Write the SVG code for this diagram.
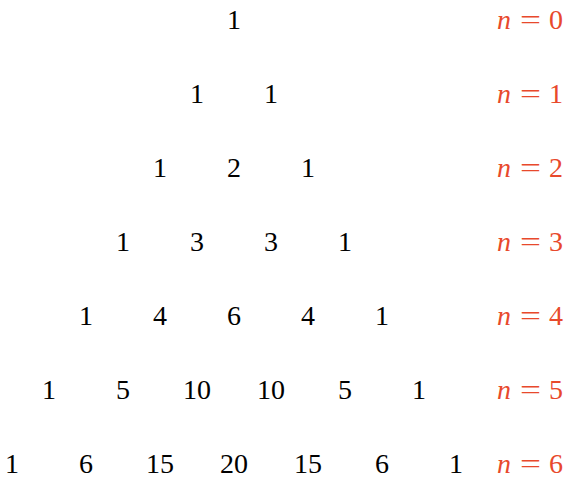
<svg xmlns="http://www.w3.org/2000/svg" width="571" height="483" viewBox="0 0 571 483" font-family="Liberation Serif">
<rect width="571" height="483" fill="#fff"/>
<g id="row0"><text font-family="Liberation Serif" font-size="28" text-anchor="middle" x="234" y="29">1</text></g>
<g id="row1"><text font-family="Liberation Serif" font-size="28" text-anchor="middle" x="197" y="103">1</text><text font-family="Liberation Serif" font-size="28" text-anchor="middle" x="271" y="103">1</text></g>
<g id="row2"><text font-family="Liberation Serif" font-size="28" text-anchor="middle" x="160" y="177">1</text><text font-family="Liberation Serif" font-size="28" text-anchor="middle" x="234" y="177">2</text><text font-family="Liberation Serif" font-size="28" text-anchor="middle" x="308" y="177">1</text></g>
<g id="row3"><text font-family="Liberation Serif" font-size="28" text-anchor="middle" x="123" y="251">1</text><text font-family="Liberation Serif" font-size="28" text-anchor="middle" x="197" y="251">3</text><text font-family="Liberation Serif" font-size="28" text-anchor="middle" x="271" y="251">3</text><text font-family="Liberation Serif" font-size="28" text-anchor="middle" x="345" y="251">1</text></g>
<g id="row4"><text font-family="Liberation Serif" font-size="28" text-anchor="middle" x="86" y="325">1</text><text font-family="Liberation Serif" font-size="28" text-anchor="middle" x="160" y="325">4</text><text font-family="Liberation Serif" font-size="28" text-anchor="middle" x="234" y="325">6</text><text font-family="Liberation Serif" font-size="28" text-anchor="middle" x="308" y="325">4</text><text font-family="Liberation Serif" font-size="28" text-anchor="middle" x="382" y="325">1</text></g>
<g id="row5"><text font-family="Liberation Serif" font-size="28" text-anchor="middle" x="49" y="399">1</text><text font-family="Liberation Serif" font-size="28" text-anchor="middle" x="123" y="399">5</text><text font-family="Liberation Serif" font-size="28" text-anchor="middle" x="197" y="399">10</text><text font-family="Liberation Serif" font-size="28" text-anchor="middle" x="271" y="399">10</text><text font-family="Liberation Serif" font-size="28" text-anchor="middle" x="345" y="399">5</text><text font-family="Liberation Serif" font-size="28" text-anchor="middle" x="419" y="399">1</text></g>
<g id="row6"><text font-family="Liberation Serif" font-size="28" text-anchor="middle" x="12" y="473">1</text><text font-family="Liberation Serif" font-size="28" text-anchor="middle" x="86" y="473">6</text><text font-family="Liberation Serif" font-size="28" text-anchor="middle" x="160" y="473">15</text><text font-family="Liberation Serif" font-size="28" text-anchor="middle" x="234" y="473">20</text><text font-family="Liberation Serif" font-size="28" text-anchor="middle" x="308" y="473">15</text><text font-family="Liberation Serif" font-size="28" text-anchor="middle" x="382" y="473">6</text><text font-family="Liberation Serif" font-size="28" text-anchor="middle" x="456" y="473">1</text></g>
<g id="labels" fill="#e8492c">
<g id="lab0"><text font-family="Liberation Serif" font-size="28" font-style="italic" x="497" y="29">n</text><text font-family="Liberation Serif" font-size="28" x="520" y="29" textLength="21" lengthAdjust="spacingAndGlyphs">=</text><text font-family="Liberation Serif" font-size="28" text-anchor="middle" x="556" y="29">0</text></g>
<g id="lab1"><text font-family="Liberation Serif" font-size="28" font-style="italic" x="497" y="103">n</text><text font-family="Liberation Serif" font-size="28" x="520" y="103" textLength="21" lengthAdjust="spacingAndGlyphs">=</text><text font-family="Liberation Serif" font-size="28" text-anchor="middle" x="556" y="103">1</text></g>
<g id="lab2"><text font-family="Liberation Serif" font-size="28" font-style="italic" x="497" y="177">n</text><text font-family="Liberation Serif" font-size="28" x="520" y="177" textLength="21" lengthAdjust="spacingAndGlyphs">=</text><text font-family="Liberation Serif" font-size="28" text-anchor="middle" x="556" y="177">2</text></g>
<g id="lab3"><text font-family="Liberation Serif" font-size="28" font-style="italic" x="497" y="251">n</text><text font-family="Liberation Serif" font-size="28" x="520" y="251" textLength="21" lengthAdjust="spacingAndGlyphs">=</text><text font-family="Liberation Serif" font-size="28" text-anchor="middle" x="556" y="251">3</text></g>
<g id="lab4"><text font-family="Liberation Serif" font-size="28" font-style="italic" x="497" y="325">n</text><text font-family="Liberation Serif" font-size="28" x="520" y="325" textLength="21" lengthAdjust="spacingAndGlyphs">=</text><text font-family="Liberation Serif" font-size="28" text-anchor="middle" x="556" y="325">4</text></g>
<g id="lab5"><text font-family="Liberation Serif" font-size="28" font-style="italic" x="497" y="399">n</text><text font-family="Liberation Serif" font-size="28" x="520" y="399" textLength="21" lengthAdjust="spacingAndGlyphs">=</text><text font-family="Liberation Serif" font-size="28" text-anchor="middle" x="556" y="399">5</text></g>
<g id="lab6"><text font-family="Liberation Serif" font-size="28" font-style="italic" x="497" y="473">n</text><text font-family="Liberation Serif" font-size="28" x="520" y="473" textLength="21" lengthAdjust="spacingAndGlyphs">=</text><text font-family="Liberation Serif" font-size="28" text-anchor="middle" x="556" y="473">6</text></g>
</g>
</svg>
